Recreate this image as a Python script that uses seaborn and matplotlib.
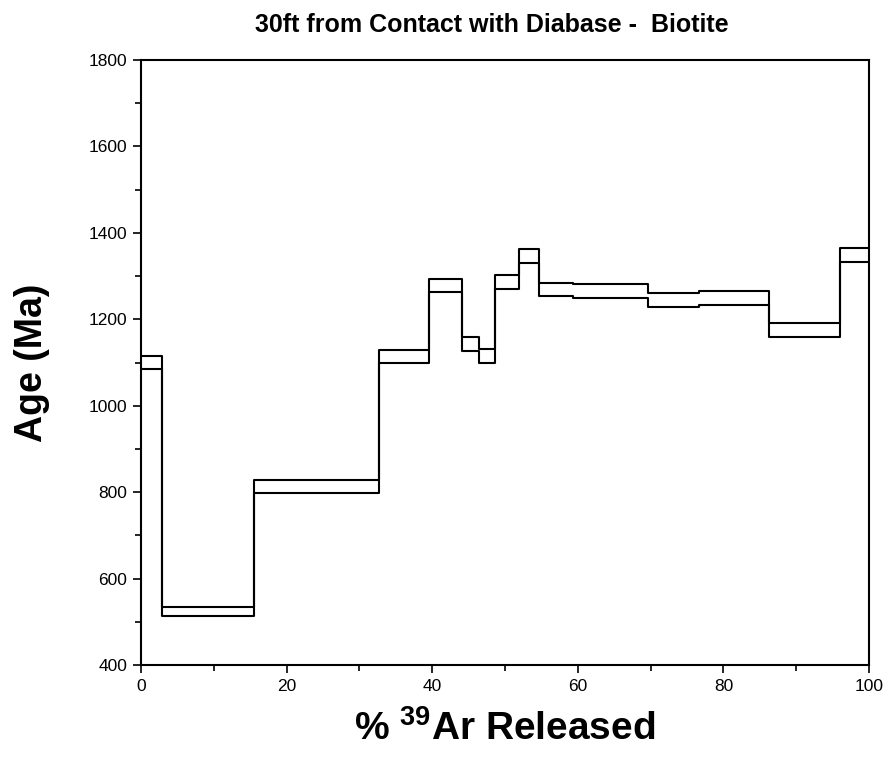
import matplotlib
matplotlib.use("Agg")
import matplotlib.pyplot as plt
import seaborn as sns
import pandas as pd
from matplotlib.ticker import MultipleLocator

# Step boundaries (cumulative % 39Ar released) and age envelopes (Ma)
cum_pct = [0, 2.84, 15.56, 32.7, 39.6, 44.1, 46.4, 48.6, 51.9, 54.7, 59.4, 69.6, 76.7, 86.3, 96.0, 100]
age_top = [1116, 535, 828, 1128, 1293, 1158, 1131, 1302, 1363, 1285, 1281, 1261, 1265, 1191, 1365]
age_bot = [1084, 514, 797, 1100, 1262, 1127, 1098, 1270, 1330, 1253, 1249, 1229, 1234, 1158, 1333]
x_ticks = [0, 20, 40, 60, 80, 100]
y_ticks = [400, 600, 800, 1000, 1200, 1400, 1600, 1800]

sns.set_theme(style="ticks")
plt.rcParams['font.family'] = ['Liberation Sans', 'DejaVu Sans']
plt.rcParams['mathtext.fontset'] = 'custom'
plt.rcParams['mathtext.rm'] = 'Liberation Sans'
plt.rcParams['mathtext.bf'] = 'Liberation Sans:bold'
plt.rcParams['text.color'] = 'black'
plt.rcParams['axes.labelcolor'] = 'black'

fig = plt.figure(figsize=(8.93, 7.62), dpi=100)
ax = fig.add_axes([141/893, 1 - 665/762, (869 - 141)/893, (665 - 60)/762])

df = pd.DataFrame({
    "x": cum_pct,
    "top": age_top + [age_top[-1]],
    "bot": age_bot + [age_bot[-1]],
})
for col in ["top", "bot"]:
    sns.lineplot(data=df, x="x", y=col, ax=ax, color="black", lw=1.5,
                 drawstyle="steps-post", estimator=None, sort=False)

ax.set_xlim(0, 100)
ax.set_ylim(400, 1800)
ax.set_xticks(x_ticks)
ax.set_yticks(y_ticks)
ax.xaxis.set_minor_locator(MultipleLocator(10))
ax.yaxis.set_minor_locator(MultipleLocator(100))
ax.tick_params(axis='both', which='major', direction='out', length=6, width=1.2,
               color='black', labelcolor='black', pad=4)
ax.tick_params(axis='both', which='minor', direction='out', length=4, width=1.2, color='black')
ax.tick_params(top=False, right=False, which='both')
for lab in ax.get_xticklabels() + ax.get_yticklabels():
    lab.set_fontfamily(['Liberation Sans Narrow', 'Liberation Sans'])
    lab.set_fontsize(12.5)
for s in ax.spines.values():
    s.set_visible(True)
    s.set_color('black')
    s.set_linewidth(1.5)

ax.set_xlabel(r"% $^{\mathbf{39}}$Ar Released", fontsize=28, fontweight='bold', labelpad=12)
ax.set_ylabel("Age (Ma)", fontsize=27, fontweight='bold', labelpad=28)
fig.text(492/893, 1 - 25/762, "30ft from Contact with Diabase -  Biotite",
         ha='center', va='center', fontsize=18, fontweight='bold')

fig.savefig("out.png", dpi=100, facecolor='white')
